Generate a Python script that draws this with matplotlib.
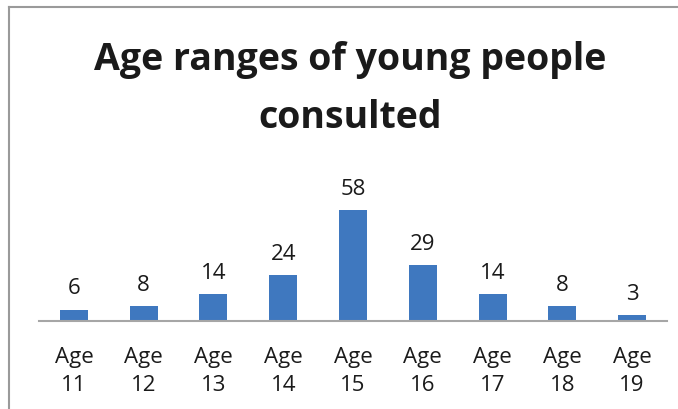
import matplotlib
matplotlib.use("Agg")
import matplotlib.pyplot as plt
from matplotlib.lines import Line2D

# data
ages = ["11", "12", "13", "14", "15", "16", "17", "18", "19"]
counts = [6, 8, 14, 24, 58, 29, 14, 8, 3]
tick_labels = [f"Age\n{a}" for a in ages]
title_lines = ["Age ranges of young people", "consulted"]

BAR_BLUE = "#3f78bf"
FONT = "Open Sans"
W, H = 678, 410

fig = plt.figure(figsize=(W / 100, H / 100), dpi=100)

# chart frame (left + top edge visible in the crop)
fig.add_artist(Line2D([9 / W, 9 / W], [0, 1 - 7.5 / H],
                      color="#9a9a9a", lw=1.5, transform=fig.transFigure))
fig.add_artist(Line2D([9 / W, 1], [1 - 7.5 / H, 1 - 7.5 / H],
                      color="#9a9a9a", lw=1.5, transform=fig.transFigure))

# title, one line at a time so the baselines sit where they do in the ref
for line, base in zip(title_lines, (70, 128)):
    fig.text(350 / W, 1 - base / H, line, ha="center", va="baseline",
             fontsize=27, fontweight="bold", family=FONT, color="#1a1a1a")

ax = fig.add_axes([39 / W, 88 / H, 628 / W, 134 / H])
x = range(len(counts))
bars = ax.bar(x, counts, width=0.4, color=BAR_BLUE, zorder=2)
ax.bar_label(bars, padding=8, fontsize=16, family=FONT, color="#1a1a1a")

ax.set_xlim(-0.5, len(counts) - 0.5)
ax.set_ylim(0, 70)
ax.set_xticks(list(x))
ax.set_xticklabels(tick_labels, fontsize=16, family=FONT, color="#1a1a1a",
                   linespacing=1.45)
ax.tick_params(axis="x", length=0, pad=18)
ax.set_yticks([])
for side in ("top", "right", "left"):
    ax.spines[side].set_visible(False)
ax.spines["bottom"].set_color("#a6a6a6")
ax.spines["bottom"].set_linewidth(1.5)

fig.savefig("out.png", dpi=100, facecolor="white")
